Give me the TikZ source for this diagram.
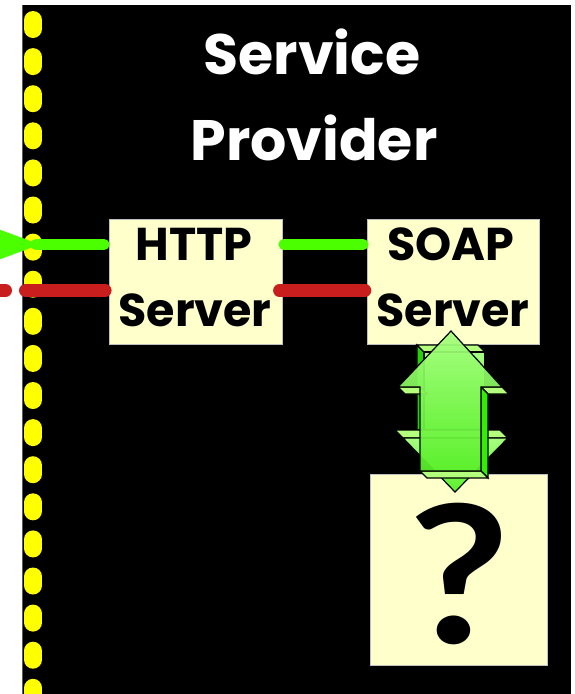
\documentclass[tikz,border=0pt]{standalone}
\usepackage{fontspec}
\newfontfamily\comicfont{Poppins}
\newfontfamily\markfont{Lato}
\usetikzlibrary{calc}

\definecolor{padfill}{HTML}{FFFFCC}
\definecolor{wiregreen}{HTML}{4CFF00}
\definecolor{wirered}{HTML}{C81E1E}
\definecolor{dotyellow}{HTML}{FFFF00}
\definecolor{facelight}{HTML}{B4FF7C}
\definecolor{facetop}{HTML}{A6FF80}
\definecolor{facebottom}{HTML}{5AF02A}
\definecolor{sidebright}{HTML}{33EE00}
\definecolor{sidedark}{HTML}{22D400}

\tikzset{
  box/.style={draw=white!75!black, line width=0.8pt, fill=padfill, inner sep=0pt},
  boxtext/.style={inner sep=0pt, text=black,
    font=\comicfont\bfseries\fontsize{46}{46}\selectfont},
  titletext/.style={inner sep=0pt, text=white,
    font=\comicfont\bfseries\fontsize{57}{57}\selectfont},
  greenwire/.style={draw=wiregreen, line width=11pt, line cap=round},
  redwire/.style={draw=wirered, line width=13pt, line cap=round},
  dotline/.style={draw=dotyellow, line width=18pt, line cap=round,
    dash pattern=on 9pt off 28.1pt},
  facet/.style={draw=black, line width=1.2pt},
}

\begin{document}
\begin{tikzpicture}[x=1pt, y=-1pt]
\useasboundingbox (0,0) rectangle (575,694);

% provider area and its dotted boundary
\fill[black] (22,5) rectangle (571,694);
\draw[white!35!black, line width=0.8pt] (22,5) -- (22,694);
\draw[dotline] (33,20) -- (33,720);

% heading
\node[titletext, anchor=base] (title1) at (312,74) {Service};
\node[titletext, anchor=base] (title2) at (314,160) {Provider};

% server boxes and the unknown back end
\node[box, minimum width=173pt, minimum height=125pt] (http) at (195.5,281.5) {};
\node[box, minimum width=172pt, minimum height=125pt] (soap) at (453,281.5) {};
\node[box, minimum width=177pt, minimum height=191pt] (query) at (458.5,569.5) {};

\node[boxtext, anchor=base] (httpA) at (194,260) {HTTP};
\node[boxtext, anchor=base] (httpB) at (195,326) {Server};
\node[boxtext, anchor=base] (soapA) at (451,260) {SOAP};
\node[boxtext, anchor=base] (soapB) at (453,326) {Server};
\node[inner sep=0pt, anchor=base,
      font=\markfont\bfseries\fontsize{192}{192}\selectfont] (qmark) at (459,643)
      {\scalebox{1.15}[1]{?}};

% request (green) and response (red) wires
\coordinate (inG) at (36,244.5);
\coordinate (inR) at (25.5,290.5);
\coordinate (outR) at (5.5,290.5);
\coordinate (farR) at (-20,290.5);

\draw[greenwire] (inG) -- ([xshift=-4.5pt,yshift=37pt]http.west);
\fill[wiregreen] (-2,229) -- (40,244.5) -- (-2,260) -- cycle;
\draw[greenwire] ([xshift=1.5pt,yshift=37pt]http.east) -- ([xshift=-3.5pt,yshift=37pt]soap.west);

\draw[redwire] (farR) -- (outR);
\draw[redwire] (inR) -- ([xshift=-3.5pt,yshift=-9pt]http.west);
\draw[redwire] ([xshift=-2.8pt,yshift=-9pt]http.east) -- ([xshift=-1.8pt,yshift=-9pt]soap.west);

% 3D double arrow between SOAP server and back end
% rear (downward) arrow
\filldraw[facet, fill=sidedark] (417,345) -- (424,352) -- (424,430) -- (417,430) -- cycle;
\filldraw[facet, fill=facelight] (417,345) -- (478,345) -- (485,352) -- (424,352) -- cycle;
\filldraw[facet, top color=facetop, bottom color=facebottom] (424,352) rectangle (485,430);
\filldraw[facet, fill=facelight] (395,430) -- (500,430) -- (508,438) -- (403,438) -- cycle;
\filldraw[facet, top color=facetop, bottom color=facebottom] (403,438) -- (508,438) -- (455,492) -- cycle;

% front (upward) arrow
\filldraw[facet, fill=facelight] (398,387) -- (420,387) -- (427,394) -- (405,394) -- cycle;
\filldraw[facet, fill=facelight] (481,387) -- (502,387) -- (509,394) -- (488,394) -- cycle;
\filldraw[facet, fill=sidebright] (481,387) -- (488,394) -- (488,478) -- (481,471) -- cycle;
\filldraw[facet, fill=facelight] (420,471) -- (481,471) -- (488,478) -- (427,478) -- cycle;
\shade[top color=facetop, bottom color=facebottom, opacity=0.93]
  (451,331) -- (502,387) -- (481,387) -- (481,471) -- (420,471) -- (420,387) -- (398,387) -- cycle;
\draw[facet]
  (451,331) -- (502,387) -- (481,387) -- (481,471) -- (420,471) -- (420,387) -- (398,387) -- cycle;
\end{tikzpicture}
\end{document}
